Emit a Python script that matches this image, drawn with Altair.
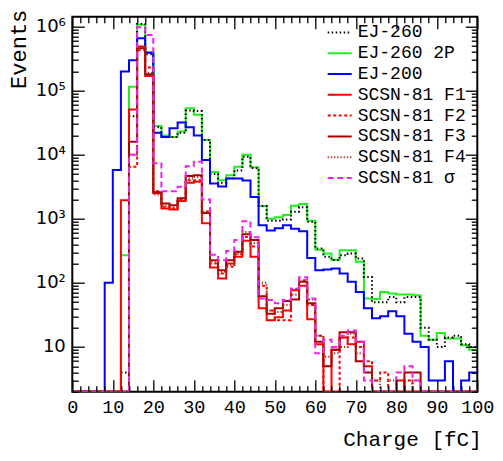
import altair as alt
import pandas as pd

# ---------------- data (bin left edges 0,2,...,98 ; width 2 fC) ----------------
bin_edges = list(range(0, 101, 2))

series_names = ["EJ-260", "EJ-260 2P", "EJ-200", "SCSN-81 F1", "SCSN-81 F2",
                "SCSN-81 F3", "SCSN-81 F4", "SCSN-81 σ"]

ej260 = [0, 0, 0, 0, 0, 0, 4, 40000, 1.1e6, 3.7e5,
         27000, 19000, 19000, 22000, 49000, 48000, 17000, 5000, 3650, 4300,
         5700, 9300, 6200, 1580, 935, 935, 980, 1290, 1510, 900,
         345, 255, 227, 270, 287, 240, 124, 50, 50, 60,
         50, 60, 60, 20, 13, 10, 14, 15, 11, 10]

ej260_2p = [0, 0, 0, 0, 0, 0, 270, 115000, 1.07e6, 4.0e5,
            28000, 20000, 19000, 23000, 53000, 42000, 17000, 5400, 4000, 4800,
            6500, 10000, 6400, 1580, 1000, 1060, 1150, 1600, 1700, 930,
            330, 287, 227, 324, 324, 213, 57, 56, 72, 68,
            66, 66, 64, 15, 13, 16.5, 13.5, 13.5, 10.6, 9]

ej200 = [0, 0, 0, 0, 100, 5800, 2.0e5, 3.0e5, 6.6e5, 3.9e5,
         22000, 19000, 26000, 32000, 27000, 20000, 8300, 3550, 3200, 4270,
         4270, 3950, 2200, 790, 660, 710, 790, 700, 640, 245,
         158, 162, 167, 140, 104, 72, 40, 28, 30, 36,
         30, 16, 12, 10, 3, 3, 6, 0, 3, 4]

scsn_f1 = [0, 0, 0, 0, 0, 0, 1950, 51000, 4.9e5, 1.7e5,
           2500, 1450, 1400, 1900, 3650, 3800, 850, 173, 117, 200,
           255, 455, 255, 40, 26, 29, 37, 77, 90, 27,
           11, 0, 9, 14, 11, 12, 5, 0, 0, 0,
           3, 0, 0, 0, 0, 0, 0, 0, 0, 0]

scsn_f2 = [0, 0, 0, 0, 0, 0, 0, 6500, 4.3e5, 2.3e5,
           2700, 1540, 1450, 2000, 4000, 4000, 1300, 200, 140, 178,
           280, 520, 370, 90, 37, 26, 26, 80, 110, 45,
           15, 0, 0, 14, 14, 10, 6, 3, 4, 0,
           0, 3, 0, 0, 0, 0, 0, 0, 0, 0]

scsn_f3 = [0, 0, 0, 0, 0, 0, 0, 16000, 4.6e5, 1.8e5,
           2600, 1740, 1630, 2100, 4650, 4800, 1230, 225, 158, 225,
           305, 575, 465, 62, 33, 40, 52, 55, 104, 48,
           12, 5, 9, 17, 17, 6, 4, 0, 0, 0,
           0, 4, 4, 0, 0, 0, 0, 0, 0, 0]

scsn_f4 = [0, 0, 0, 0, 0, 0, 0, 10000, 4.7e5, 1.9e5,
           2400, 1600, 1500, 2000, 4300, 4500, 1250, 215, 150, 190,
           290, 620, 420, 100, 37, 35, 45, 65, 105, 55,
           15, 7, 8, 10, 16, 8, 5, 3, 0, 3,
           0, 0, 3, 0, 0, 0, 0, 0, 0, 0]

scsn_sigma = [0, 0, 0, 0, 0, 0, 0, 10000, 9.8e5, 7.4e5,
              7400, 2700, 2700, 3160, 6600, 7800, 2000, 276, 225, 315,
              465, 915, 515, 57, 54, 48, 54, 82, 122, 57,
              8, 13, 10, 15, 18, 12, 3, 0, 0, 0,
              4, 5, 3, 0, 0, 0, 0, 0, 0, 0]

series_values = {
    "EJ-260": ej260, "EJ-260 2P": ej260_2p, "EJ-200": ej200,
    "SCSN-81 F1": scsn_f1, "SCSN-81 F2": scsn_f2, "SCSN-81 F3": scsn_f3,
    "SCSN-81 F4": scsn_f4, "SCSN-81 σ": scsn_sigma,
}

series_colors = ["#000000", "#22ee22", "#0000ff", "#ff0000", "#ff0000",
                 "#aa0000", "#993322", "#ee22ee"]
series_dashes = [[1.5, 2.5], [1, 0], [1, 0], [1, 0], [3, 2.5],
                 [1, 0], [1.2, 2], [6, 3.5]]

draw_order = ["EJ-260 2P", "EJ-260", "EJ-200", "SCSN-81 F1", "SCSN-81 F2",
              "SCSN-81 F3", "SCSN-81 F4", "SCSN-81 σ"]

Y_MIN, Y_MAX = 2, 1.43e6

rows = []
for name in draw_order:
    vals = series_values[name]
    for i, edge in enumerate(bin_edges):
        v = vals[i] if i < len(vals) else vals[-1]   # closing point at x=100
        # empty bins sit on the axis floor (clamped), as ROOT draws them
        rows.append({"series": name, "charge": edge, "events": max(v, 1)})
df = pd.DataFrame(rows)

x_scale = alt.Scale(domain=[0, 100], nice=False, zero=False)
y_scale = alt.Scale(type="log", domain=[Y_MIN, Y_MAX], nice=False, clamp=True)

x_ticks = list(range(0, 101, 2))
y_ticks = [m * 10 ** k for k in range(0, 7) for m in range(1, 10)
           if Y_MIN <= m * 10 ** k <= Y_MAX]
y_decades = [10, 100, 1000, 10000, 100000, 1000000]

x_major = "datum.value % 10 == 0"
y_major = "abs(log(datum.value)/LN10 - round(log(datum.value)/LN10)) < 0.001"

W, H = 405, 375

legend = alt.Legend(title=None, orient="none", legendX=254.4, legendY=6.2,
                    labelFont="Liberation Mono", labelFontSize=18,
                    labelColor="black", symbolType="stroke", symbolSize=576,
                    symbolStrokeWidth=2, labelOffset=5, padding=0,
                    rowPadding=1.8, clipHeight=19, labelLimit=300)

hist = alt.Chart(df).mark_line(interpolate="step-after", strokeWidth=2, clip=True).encode(
    x=alt.X("charge:Q", scale=x_scale,
            axis=alt.Axis(values=list(range(0, 101, 10)), ticks=False, tickSize=0,
                          domain=False, grid=False, labelFont="Liberation Mono",
                          labelFontSize=18.5, labelColor="black", labelPadding=6,
                          labelFlush=False, labelOverlap=False,
                          title="Charge [fC]", titleFont="Liberation Mono",
                          titleFontSize=21, titleFontWeight="normal",
                          titleColor="black", titleAlign="right",
                          titleX=409, titleY=48, titleBaseline="middle")),
    y=alt.Y("events:Q", scale=y_scale,
            axis=alt.Axis(values=y_decades, ticks=False, tickSize=0, domain=False,
                          grid=False, labelFont="DejaVu Sans", labelFontSize=18,
                          labelColor="black", labelPadding=7,
                          labelExpr="datum.value == 10 ? '10' : '10' + ['','','²','³','⁴','⁵','⁶'][round(log(datum.value)/LN10)]",
                          title="Events", titleFont="Liberation Mono",
                          titleFontSize=22, titleFontWeight="normal",
                          titleColor="black", titleAngle=270, titleAlign="right",
                          titleX=-54, titleY=-7.5, titleBaseline="middle")),
    color=alt.Color("series:N", scale=alt.Scale(domain=series_names, range=series_colors),
                    legend=legend),
    strokeDash=alt.StrokeDash("series:N", scale=alt.Scale(domain=series_names, range=series_dashes),
                              legend=legend),
)

def tick_axis(orient, offset, values, test):
    return alt.Axis(orient=orient, offset=offset, values=values, labels=False,
                    domain=False, grid=False, title=None, tickColor="black",
                    tickWidth=1.3, zindex=1,
                    tickSize={"condition": {"test": test, "value": 12}, "value": 6})

# inward ticks on bottom + left edges
ticks_bl = alt.Chart(df).mark_point(opacity=0).encode(
    x=alt.X("charge:Q", scale=x_scale, axis=tick_axis("top", -H, x_ticks, x_major)),
    y=alt.Y("events:Q", scale=y_scale, axis=tick_axis("right", -W, y_ticks, y_major)),
)
# inward ticks on top + right edges
ticks_tr = alt.Chart(df).mark_point(opacity=0).encode(
    x=alt.X("charge:Q", scale=x_scale, axis=tick_axis("bottom", -H, x_ticks, x_major)),
    y=alt.Y("events:Q", scale=y_scale, axis=tick_axis("left", -W, y_ticks, y_major)),
)

chart = alt.layer(hist, ticks_bl, ticks_tr).resolve_scale(
    x="independent", y="independent"
).properties(
    width=W, height=H,
    autosize=alt.AutoSizeParams(type="none"),
    padding={"left": 64.3, "top": 8.7, "right": 17.7, "bottom": 61.3},
    background="white",
).configure_view(stroke="black", strokeWidth=2)

chart.save("out.html", embed_options={"renderer": "svg", "actions": False})
